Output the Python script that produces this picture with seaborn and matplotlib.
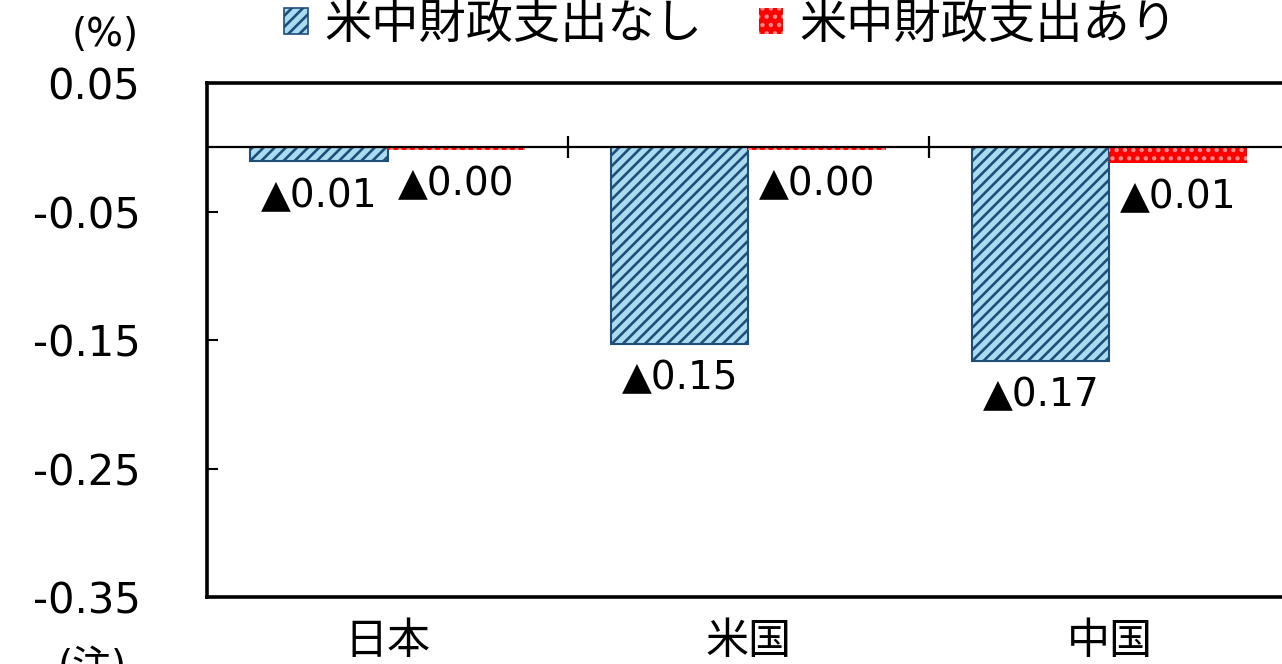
import pandas as pd
import matplotlib.pyplot as plt
import seaborn as sns

sns.set_style('white')
plt.rcParams['font.family'] = ['DejaVu Sans', 'Noto Sans CJK JP']
plt.rcParams['text.color'] = 'black'
plt.rcParams['xtick.color'] = 'black'
plt.rcParams['ytick.color'] = 'black'
plt.rcParams['hatch.linewidth'] = 1.9

# %% Data
countries = ['日本', '米国', '中国']
series = ['米中財政支出なし', '米中財政支出あり']
no_spending = [-0.011, -0.153, -0.166]
with_spending = [-0.002, -0.002, -0.012]
yticks = [0.05, -0.05, -0.15, -0.25, -0.35]

df = pd.DataFrame({
    'country': countries * 2,
    'series': [series[0]] * 3 + [series[1]] * 3,
    'value': no_spending + with_spending,
})

# %% Plot
fig = plt.figure(figsize=(12.82, 6.64), dpi=100)
ax = fig.add_axes([0.1615, 0.1009, 0.8385, 0.774])

sns.barplot(data=df, x='country', y='value', hue='series', order=countries, hue_order=series,
            palette=['#a9dcf0', '#ff0000'], width=0.76, saturation=1, legend=False, ax=ax)

styles = [dict(hatch='///', edgecolor='#1f4e79', linewidth=1.5),
          dict(hatch='..', edgecolor='#ff8c8c', linewidth=0)]
for cont, st in zip(ax.containers, styles):
    for bar in cont:
        bar.set_hatch(st['hatch'])
        bar.set_edgecolor(st['edgecolor'])
        bar.set_linewidth(st['linewidth'])

# data labels
for cont in ax.containers:
    for bar in cont:
        v = bar.get_height() + bar.get_y()
        ax.annotate('▲' + f'{abs(v):.2f}', (bar.get_x() + bar.get_width() / 2, v),
                    xytext=(0, -25), textcoords='offset points', ha='center', va='center',
                    fontsize=28)

# zero line with category separators
ax.axhline(0, color='black', linewidth=1.6, zorder=3)
ax.plot([0.5, 1.5], [0, 0], linestyle='none', marker='|', markersize=16, markeredgewidth=1.6,
        color='black', zorder=3)

ax.set_ylim(-0.35, 0.05)
ax.set_xlim(-0.5, len(countries) - 0.522)
ax.set_yticks(yticks)
ax.set_yticklabels([f'{t:.2f}' for t in yticks])
ax.tick_params(axis='y', direction='in', length=8, width=1.5, labelsize=30, pad=48, left=True)
ax.tick_params(axis='x', length=0, labelsize=31, pad=17)
for lab in ax.get_yticklabels():
    lab.set_horizontalalignment('right')
ax.set_xlabel('')
ax.set_ylabel('')

for side in ['top', 'left', 'bottom']:
    ax.spines[side].set_linewidth(2.6)
    ax.spines[side].set_color('black')
ax.spines['right'].set_visible(False)

fig.text(0.082, 0.947, '(%)', fontsize=28, ha='center', va='center')
fig.text(0.072, -0.005, '(注)', fontsize=28, ha='center', va='center')

# legend
handles = [plt.Rectangle((0, 0), 1, 1, facecolor='#a9dcf0', hatch='///', edgecolor='#1f4e79', linewidth=1.2),
           plt.Rectangle((0, 0), 1, 1, facecolor='#ff0000', hatch='..', edgecolor='#ff8c8c', linewidth=0)]
fig.legend(handles, series, loc='center', bbox_to_anchor=(0.57, 0.962), ncol=2, frameon=False,
           fontsize=34, handlelength=0.5, handleheight=0.5, handletextpad=0.35, columnspacing=1.2)

fig.savefig('out.png', dpi=100)
